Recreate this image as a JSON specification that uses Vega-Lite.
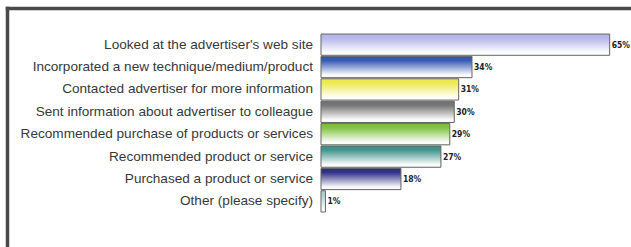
{
  "$schema": "https://vega.github.io/schema/vega-lite/v6.json",
  "autosize": "none",
  "width": 624,
  "height": 239,
  "padding": {"left": 7, "top": 8, "right": 0, "bottom": 0},
  "background": "white",
  "config": {
    "view": {"stroke": null, "fill": "white"}
  },
  "data": {
    "values": [
      {"item": "Looked at the advertiser's web site", "value": 0.65},
      {"item": "Incorporated a new technique/medium/product", "value": 0.34},
      {"item": "Contacted advertiser for more information", "value": 0.31},
      {"item": "Sent information about advertiser to colleague", "value": 0.30},
      {"item": "Recommended purchase of products or services", "value": 0.29},
      {"item": "Recommended product or service", "value": 0.27},
      {"item": "Purchased a product or service", "value": 0.18},
      {"item": "Other (please specify)", "value": 0.01}
    ]
  },
  "encoding": {
    "y": {
      "field": "item",
      "type": "nominal",
      "sort": null,
      "axis": {"orient": "left", "domain": true, "domainColor": "#4a4a4a", "domainWidth": 3.5, "domainCap": "square", "ticks": false, "labels": false, "title": null, "grid": false},
      "scale": {
        "domain": [
          "Looked at the advertiser's web site",
          "Incorporated a new technique/medium/product",
          "Contacted advertiser for more information",
          "Sent information about advertiser to colleague",
          "Recommended purchase of products or services",
          "Recommended product or service",
          "Purchased a product or service",
          "Other (please specify)",
          " "
        ],
        "paddingInner": 0.05, "paddingOuter": 0.862, "align": 0.674
      }
    }
  },
  "layer": [
    {
      "mark": {"type": "bar"},
      "encoding": {
        "x": {
          "field": "value",
          "type": "quantitative",
          "axis": {"orient": "top", "domain": true, "domainColor": "#4a4a4a", "domainWidth": 3.5, "domainCap": "square", "ticks": false, "labels": false, "title": null, "grid": false},
          "scale": {"domain": [-0.707, 0.698], "nice": false, "zero": false}
        },
        "color": {
          "field": "item",
          "type": "nominal",
          "legend": null,
          "scale": {
            "domain": [
              "Looked at the advertiser's web site",
              "Incorporated a new technique/medium/product",
              "Contacted advertiser for more information",
              "Sent information about advertiser to colleague",
              "Recommended purchase of products or services",
              "Recommended product or service",
              "Purchased a product or service",
              "Other (please specify)"
            ],
            "range": ["#b4b4ea", "#3055b0", "#ece84a", "#707070", "#7cc03a", "#3a9088", "#2a2a80", "#a8d0d0"]
          }
        }
      }
    },
    {
      "mark": {
        "type": "bar",
        "stroke": "#666666",
        "strokeWidth": 1,
        "color": {
          "gradient": "linear",
          "x1": 0, "y1": 0, "x2": 0, "y2": 1,
          "stops": [
            {"offset": 0, "color": "rgba(255,255,255,0)"},
            {"offset": 0.2, "color": "rgba(255,255,255,0.05)"},
            {"offset": 0.85, "color": "rgba(255,255,255,0.95)"},
            {"offset": 1, "color": "rgba(255,255,255,1)"}
          ]
        }
      },
      "encoding": {
        "x": {"field": "value", "type": "quantitative"}
      }
    },
    {
      "mark": {
        "type": "text",
        "align": "left",
        "baseline": "middle",
        "dx": 2,
        "font": "Liberation Sans Narrow, DejaVu Sans Condensed, sans-serif",
        "fontWeight": "bold",
        "fontSize": 8.5,
        "color": "#222222"
      },
      "encoding": {
        "x": {"field": "value", "type": "quantitative"},
        "text": {"field": "value", "type": "quantitative", "format": ".0%"}
      }
    },
    {
      "mark": {
        "type": "text",
        "align": "right",
        "baseline": "middle",
        "dx": -8,
        "font": "Liberation Sans, Arial, sans-serif",
        "fontSize": 13.6,
        "color": "#383838"
      },
      "encoding": {
        "x": {"datum": 0, "type": "quantitative"},
        "text": {"field": "item", "type": "nominal"}
      }
    }
  ]
}
